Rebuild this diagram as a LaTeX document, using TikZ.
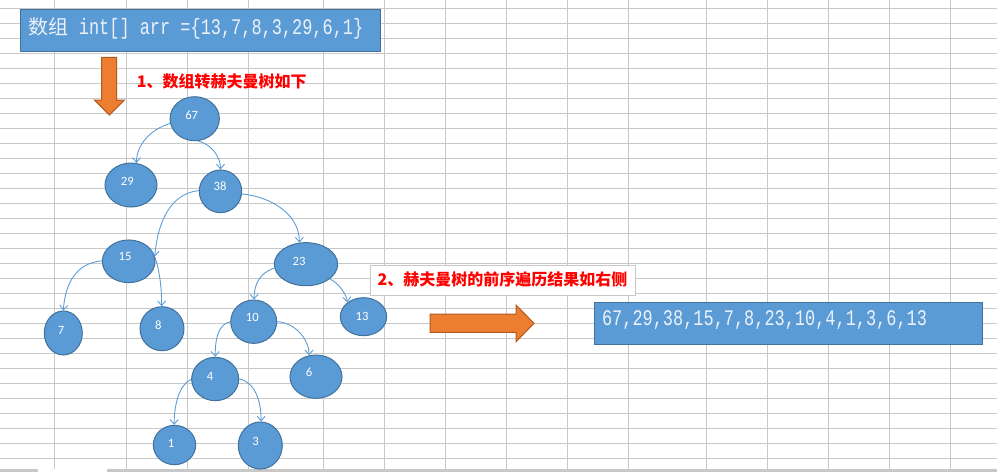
\documentclass[tikz,border=0pt]{standalone}
\usepackage{fontspec}
\usetikzlibrary{shapes.geometric,arrows.meta}
\newfontfamily\cjkf{Noto Sans CJK SC}
\newfontfamily\monof[FakeStretch=0.76]{Liberation Mono}
\newfontfamily\carl{Carlito}
\definecolor{bluefill}{RGB}{91,155,213}
\definecolor{blueline}{RGB}{65,113,156}
\definecolor{edgeblue}{RGB}{91,155,213}
\definecolor{orangefill}{RGB}{237,125,49}
\definecolor{orangeline}{RGB}{174,90,33}
\definecolor{gridc}{RGB}{200,200,200}
\definecolor{boxtext}{RGB}{236,241,249}
\tikzset{
  gridline/.style={gridc, line width=0.75pt},
  treenode/.style={ellipse, draw=blueline, fill=bluefill, inner sep=0pt, line width=0.75pt},
  numtxt/.style={text=white, font=\carl\fontsize{9.5}{11}\selectfont, inner sep=0pt},
  edge/.style={edgeblue, line width=0.65pt, -{Straight Barb[length=3.5pt,width=6pt]}},
  bluebox/.style={draw=blueline, fill=bluefill, line width=0.75pt},
  orangearrow/.style={draw=orangeline, fill=orangefill, line width=0.75pt},
  redlabel/.style={text=red, font=\cjkf\bfseries\fontsize{12}{14}\selectfont, inner sep=0pt},
}
\begin{document}
\begin{tikzpicture}[x=0.75pt,y=-0.75pt]
\useasboundingbox (0,0) rectangle (997,472);
\fill[white] (0,0) rectangle (997,472);
% grid
\foreach \yy in {0,...,30} {
  \draw[gridline] (0,{8.3+15*\yy}) -- (997,{8.3+15*\yy});
}
\foreach \xx in {54.3,126.3,187.3,248.7,323.3,384.7,445.3,506.3,567.3,628.3,706.3,767.3,828.3,889.3,950.3} {
  \draw[gridline] (\xx,0) -- (\xx,469);
}
\fill[gridc] (0,469.3) rectangle (38.3,472);
\fill[gridc] (106.7,469.3) rectangle (997,472);

% top box
\node[bluebox, rectangle, minimum width=270.5pt, minimum height=31.3pt, inner sep=0pt] (topbox) at (200.35,30.85) {};
\node[anchor=base west, inner sep=0pt, text=boxtext] (toptext) at (28.5,34)
  {{\cjkf\fontsize{15}{18}\selectfont 数组}{\monof\fontsize{16.7}{18}\selectfont\ int[]\ arr\ =\{13,7,8,3,29,6,1\}}};

% down arrow
\draw[orangearrow] (101.7,57.3) -- (116.7,57.3) -- (116.7,100) -- (124.3,100) -- (109.3,115) -- (94.3,100) -- (101.7,100) -- cycle;
\node[redlabel, anchor=west] (lab1) at (136.5,81.7) {1、数组转赫夫曼树如下};

% label 2 box
\node[draw=gridc, fill=white, line width=0.75pt, minimum width=199pt, minimum height=22.5pt, inner sep=0pt] (lab2box) at (503.3,280) {};
\node[redlabel] (lab2) at (502.5,279.5) {2、赫夫曼树的前序遍历结果如右侧};

% right arrow
\draw[orangearrow] (430,314) -- (516,314) -- (516,305) -- (534,323.3) -- (516,341.7) -- (516,332.3) -- (430,332.3) -- cycle;

% result box
\node[bluebox, rectangle, minimum width=290.8pt, minimum height=31.5pt, inner sep=0pt] (resbox) at (788.85,323.3) {};
\node[anchor=base west, inner sep=0pt, text=boxtext] (restext) at (601.8,325.5)
  {\monof\fontsize{16.7}{18}\selectfont 67,29,38,15,7,8,23,10,4,1,3,6,13};

% tree nodes
\node[treenode, minimum width=37pt, minimum height=33pt] (n67) at (194.7,118.7) {};
\node[treenode, minimum width=39pt, minimum height=33pt] (n29) at (131,185) {};
\node[treenode, minimum width=31.8pt, minimum height=32pt] (n38) at (220.5,191.3) {};
\node[treenode, minimum width=39.5pt, minimum height=32pt] (n15) at (128.7,261.3) {};
\node[treenode, minimum width=47.5pt, minimum height=32.3pt] (n23) at (306,264.2) {};
\node[treenode, minimum width=28.5pt, minimum height=33pt] (n7) at (63.3,333) {};
\node[treenode, minimum width=33pt, minimum height=33pt] (n8) at (162,328.7) {};
\node[treenode, minimum width=34.5pt, minimum height=32.5pt] (n10) at (253.7,321.7) {};
\node[treenode, minimum width=34.8pt, minimum height=28.5pt] (n13) at (363.5,316.7) {};
\node[treenode, minimum width=35.3pt, minimum height=32.5pt] (n4) at (215.2,379) {};
\node[treenode, minimum width=39pt, minimum height=32.5pt] (n6) at (316,376.7) {};
\node[treenode, minimum width=31.8pt, minimum height=29.5pt] (n1) at (174.5,445) {};
\node[treenode, minimum width=33pt, minimum height=35.3pt] (n3) at (260.3,445.5) {};

% numbers
\node[numtxt] (t67) at (191.7,115) {67};
\node[numtxt] (t29) at (127.3,181) {29};
\node[numtxt] (t38) at (220,186.7) {38};
\node[numtxt] (t15) at (125,256.7) {15};
\node[numtxt] (t23) at (299,261) {23};
\node[numtxt] (t7) at (61,330) {7};
\node[numtxt] (t8) at (158.3,325) {8};
\node[numtxt] (t10) at (252.3,317.3) {10};
\node[numtxt] (t13) at (362,316) {13};
\node[numtxt] (t4) at (210,376) {4};
\node[numtxt] (t6) at (309,372.7) {6};
\node[numtxt] (t1) at (171,443.3) {1};
\node[numtxt] (t3) at (255.7,441) {3};

% edges
\draw[edge] (n67.191) .. controls +(-20,6) and +(0,-18) .. (n29.76);
\draw[edge] (n67.279) .. controls +(12,3) and +(0,-14) .. (n38.90);
\draw[edge] (n38.178) .. controls +(-28,3) and +(3,-35) .. (n15.11);
\draw[edge] (n38.353) .. controls +(30,3) and +(0,-28) .. (n23.107);
\draw[edge] (n15.179) .. controls +(-25,2) and +(2,-28) .. (n7.90);
\draw[edge] (n15.8) .. controls +(5,16) and +(0,-18) .. (n8.91);
\draw[edge] (n23.187) .. controls +(-15,5) and +(0,-15) .. (n10.89);
\draw[edge] (n23.328) .. controls +(8,3) and +(-1,-8) .. (n13.138);
\draw[edge] (n10.180) .. controls +(-13,3) and +(0,-16) .. (n4.90);
\draw[edge] (n10.0) .. controls +(18,1) and +(0,-16) .. (n6.108);
\draw[edge] (n4.181) .. controls +(-12,5) and +(0,-20) .. (n1.91);
\draw[edge] (n4.0) .. controls +(16,3) and +(0,-20) .. (n3.88);
\end{tikzpicture}
\end{document}
